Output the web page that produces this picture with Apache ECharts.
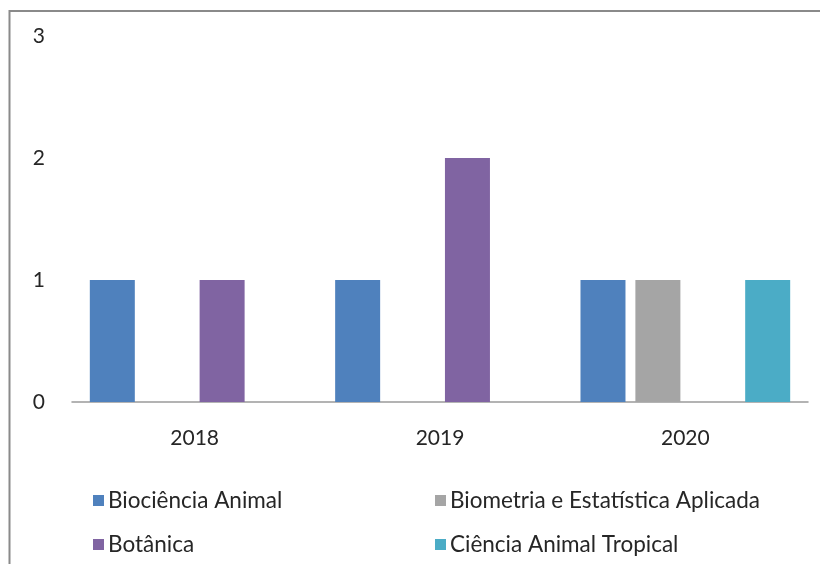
<!DOCTYPE html>
<html><head><meta charset="utf-8">
<script src="https://cdn.jsdelivr.net/npm/echarts@6/dist/echarts.min.js"></script>
<style>html,body{margin:0;padding:0;background:#fff}#c{width:820px;height:564px}</style>
</head><body><div id="c"></div>
<script>
const categories = ['2018', '2019', '2020'];
const seriesNames = ['Biociência Animal', 'Biometria e Estatística Aplicada', 'Botânica', 'Ciência Animal Tropical'];
const bioAnimal = [1, 1, 1];
const biometria = [0, 0, 1];
const botanica = [1, 2, 0];
const cienciaTropical = [0, 0, 1];
const yTicks = [0, 1, 2, 3];

const colors = ['#4F81BD', '#A5A5A5', '#8064A2', '#4BACC6'];
const values = [bioAnimal, biometria, botanica, cienciaTropical];
const font = 'Lato';
const chart = echarts.init(document.getElementById('c'));
chart.setOption({
  animation: false,
  backgroundColor: '#fff',
  graphic: [{
    type: 'rect', shape: {x: 9.5, y: 11, width: 900, height: 700},
    style: {fill: 'none', stroke: '#8a8a8a', lineWidth: 2}, z: 100
  }],
  grid: {left: 72, right: 12, top: 36, bottom: 162},
  xAxis: {
    type: 'category', data: categories,
    axisLine: {lineStyle: {color: '#9a9a9a', width: 1.5}},
    axisTick: {show: false},
    axisLabel: {fontFamily: font, fontSize: 21, color: '#262626', margin: 26}
  },
  yAxis: {
    type: 'value', min: yTicks[0], max: yTicks[yTicks.length - 1], interval: 1,
    axisLine: {show: false}, axisTick: {show: false}, splitLine: {show: false},
    axisLabel: {fontFamily: font, fontSize: 21, color: '#262626', margin: 27}
  },
  legend: [
    {left: 88, top: 484, orient: 'vertical', itemGap: 21, itemWidth: 11, itemHeight: 11, icon: 'rect',
     textStyle: {fontFamily: font, fontSize: 22.5, color: '#262626', padding: [0, 0, 0, -1]},
     data: [seriesNames[0], seriesNames[2]]},
    {left: 430, top: 484, orient: 'vertical', itemGap: 21, itemWidth: 11, itemHeight: 11, icon: 'rect',
     textStyle: {fontFamily: font, fontSize: 22.5, color: '#262626', padding: [0, 0, 0, -1]},
     data: [seriesNames[1], seriesNames[3]]}
  ],
  series: seriesNames.map((n, i) => ({
    name: n, type: 'bar', data: values[i], barWidth: 45, barGap: '22%',
    itemStyle: {color: colors[i]}
  }))
});
</script></body></html>
